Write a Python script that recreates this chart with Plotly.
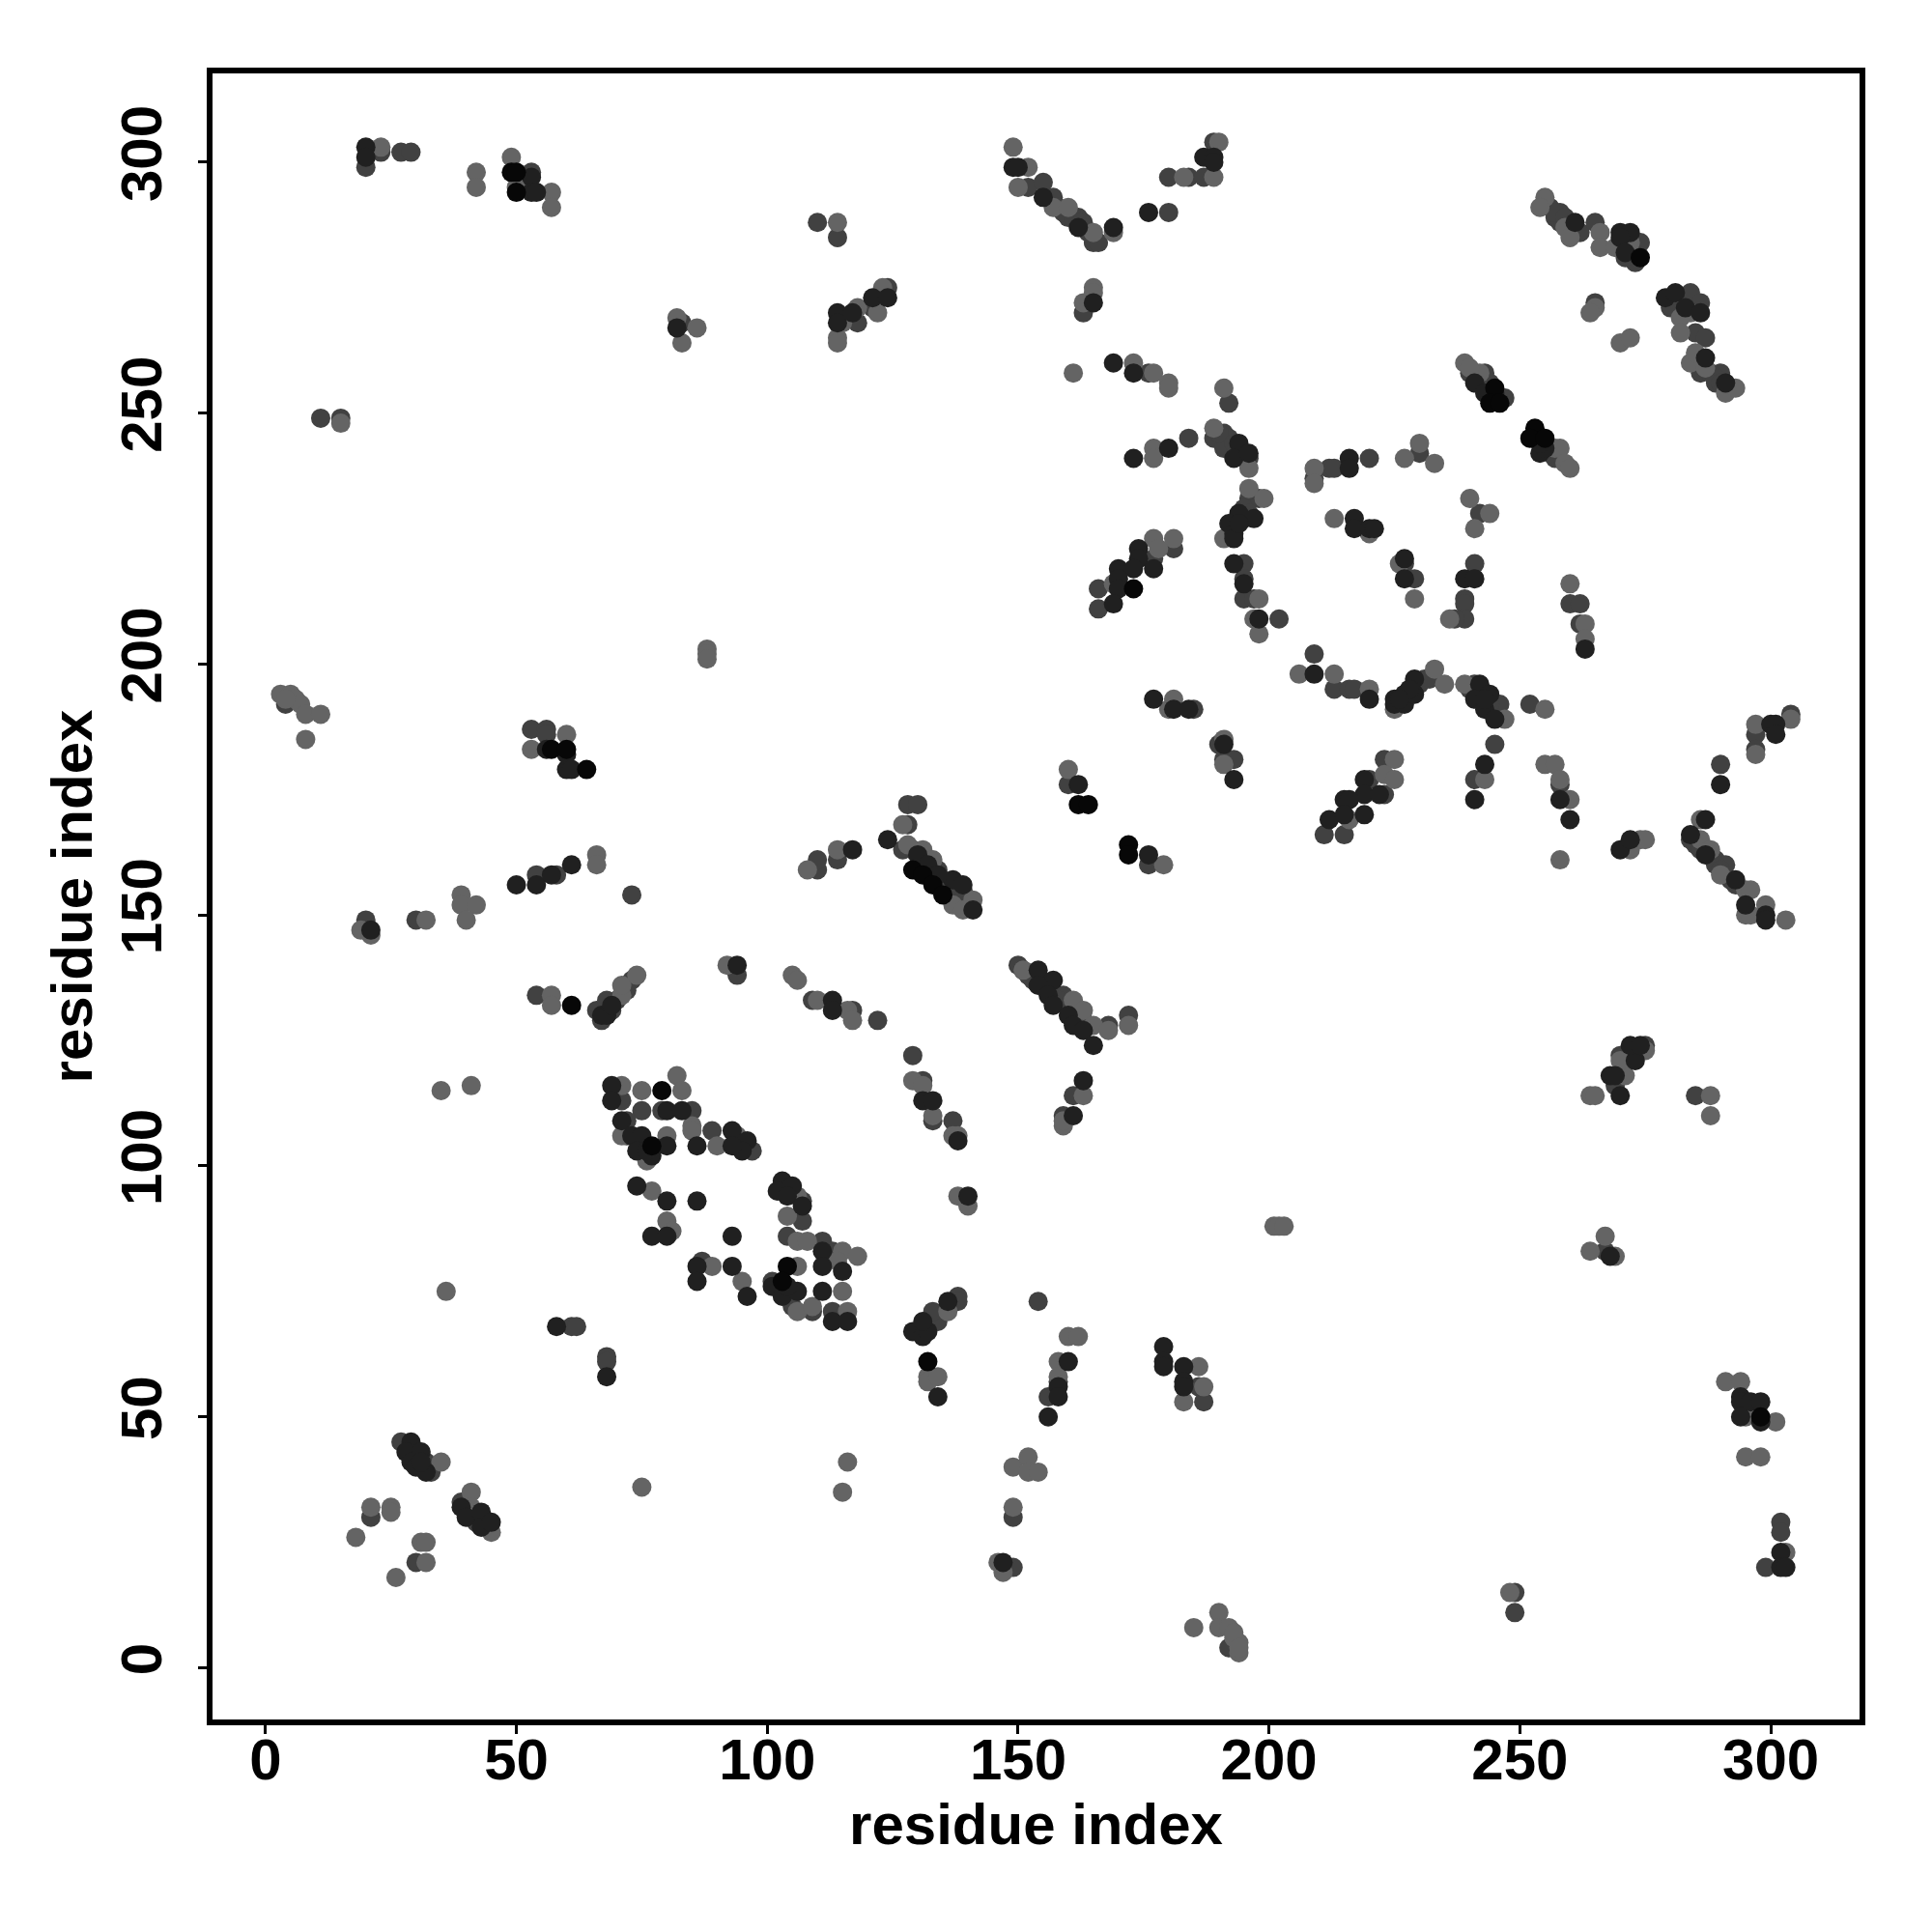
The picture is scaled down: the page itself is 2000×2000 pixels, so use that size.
import plotly.graph_objects as go

tick_values = [0, 50, 100, 150, 200, 250, 300]
axis_title = "residue index"

# (residue i, residue j) contacts, grouped by grey shade
black_contacts = [
 (132,61),(172,164),(172,162),(162,172),(164,172),(173,215),(245,255),(244,252),(246,252),
 (253,247),(252,245),(255,245),(274,281),(49,298),(50,298),(79,115),(61,132),(57,183),(60,183),(64,179),
 (50,294),(129,159),(131,158),(133,156),(135,154),(104,80),(103,77),(77,104),(298,50),
]
dark_contacts = [
 (69,116),(69,113),(80,111),(83,111),(93,107),(96,105),(95,103),(93,104),(86,104),(80,104),
 (71,109),(73,106),(75,106),(74,103),(77,102),(76,103),(74,96),(80,93),(86,93),(77,86),(80,86),(93,86),
 (86,80),(86,77),(93,80),(96,74),(103,97),(102,95),(105,96),(104,94),(107,92),(111,83),(111,80),
 (115,79),(111,75),(113,69),(116,69),(101,76),(103,74),(106,75),(104,76),(131,113),(133,113),(138,105),
 (140,94),(129,67),(131,66),(132,67),(131,69),(136,73),(134,54),(68,58),(58,68),(29,45),(28,43),(31,43),
 (29,41),(30,40),(32,39),(31,41),(39,32),(40,30),(43,31),(43,28),(45,29),(113,133),(113,131),
 (154,139),(157,137),(154,136),(156,134),(157,132),(160,130),(161,128),(163,127),(165,124),(163,117),(161,110),
 (160,61),(158,56),(158,54),(156,50),(179,64),(179,61),(179,60),(183,60),(183,57),(183,56),(268,82),(270,114),
 (268,118),(269,118),(273,121),(272,124),(274,124),(147,21),(294,54),(294,53),(294,50),(296,53),(298,53),(298,49),
 (302,23),(302,20),(303,20),(20,303),(20,301),(53,297),(53,294),(54,294),(114,270),(114,268),(117,270),(121,273),
 (124,273),(82,267),(56,183),(60,182),(60,179),(61,179),(124,165),(117,163),(50,156),(54,156),(57,158),(61,160),
 (21,147),(137,157),(139,156),(141,151),(149,299),(150,299),(155,293),(162,287),(169,287),(176,290),(187,301),
 (189,301),(189,300),(165,272),(169,260),(173,258),(173,241),(180,243),(194,244),(193,241),(196,242),(197,229),
 (194,230),(192,228),(193,226),(193,225),(194,228),(174,223),(174,221),(177,219),(170,219),(173,219),(170,217),
 (170,215),(169,212),(193,220),(195,216),(198,209),(216,241),(216,239),(217,229),(217,227),(220,227),(221,227),
 (227,221),(227,217),(239,217),(241,217),(209,198),(220,193),(225,193),(227,194),(227,192),(229,194),(229,197),
 (225,192),(242,196),(241,193),(244,194),(243,191),(245,189),(243,180),(241,173),(258,173),(260,169),(263,203),
 (177,193),(181,191),(184,191),(191,184),(193,177),(162,176),(176,162),(219,177),(219,174),(222,174),(215,173),
 (216,173),(219,170),(212,169),(215,170),(261,288),(270,286),(272,286),(270,285),(271,282),(279,273),(281,274),
 (283,271),(286,270),(287,261),(291,256),(241,256),(243,254),(245,254),(254,242),(255,243),(300,188),(301,188),
 (301,186),(290,176),(287,169),(270,163),(272,165),(284,166),(287,162),(293,157),(295,152),(299,150),(299,149),
 (94,140),(67,130),(68,130),(69,132),(253,245),(254,244),(228,195),(226,193),(243,193),(130,162),(132,160),(134,158),
]
mid_contacts = [
 (54,134),(66,131),(67,129),(68,131),(69,131),(68,133),(73,137),(71,113),(75,111),(79,111),(85,111),(89,107),(97,103),
 (72,109),(72,106),(87,81),(107,93),(107,89),(104,86),(111,85),(113,83),(113,71),(101,77),(105,72),(109,71),(129,122),
 (131,117),(133,109),(137,109),(134,69),(133,71),(138,74),(138,73),(68,62),(68,61),(61,68),(62,68),(27,45),(32,41),
 (33,39),(39,33),(42,29),(21,30),(30,21),(109,133),(117,131),(122,129),(94,138),(159,134),(168,128),(172,130),(161,114),
 (159,110),(154,73),(158,57),(156,54),(186,56),(187,53),(267,83),(269,116),(270,122),(271,122),(275,124),(285,114),
 (149,30),(149,20),(192,4),(249,15),(249,11),(302,29),(302,27),(299,20),(20,299),(23,302),(27,302),(29,302),(53,298),
 (110,288),(114,285),(118,268),(121,271),(124,275),(83,268),(11,249),(15,249),(4,192),(53,187),(56,187),(56,186),
 (128,172),(130,172),(128,168),(127,163),(134,159),(139,155),(110,159),(110,161),(114,161),(54,158),(58,158),(73,154),
 (30,149),(20,149),(152,295),(155,296),(157,293),(160,289),(162,289),(163,288),(165,284),(166,284),(180,297),(184,297),
 (187,297),(189,304),(163,270),(176,258),(192,252),(184,245),(189,245),(191,246),(192,245),(196,241),(191,243),(196,233),
 (198,233),(195,229),(181,223),(177,221),(166,215),(166,211),(195,220),(195,217),(195,213),(197,213),(202,209),(209,237),
 (212,239),(213,239),(220,241),(230,242),(227,220),(229,217),(242,230),(241,220),(239,213),(239,212),(239,209),(237,209),
 (209,202),(213,195),(216,195),(217,195),(231,197),(241,196),(246,192),(252,192),(245,184),(241,177),(258,176),(260,212),
 (262,212),(262,208),(185,191),(190,184),(191,181),(193,181),(160,176),(176,160),(223,181),(220,177),(223,174),(211,166),
 (215,166),(256,291),(258,290),(257,289),(258,288),(262,286),(265,288),(274,284),(273,280),(271,281),(265,272),(280,271),
 (284,274),(286,272),(285,266),(287,265),(286,258),(290,258),(289,256),(240,258),(243,258),(247,253),(257,241),(304,190),
 (297,186),(297,183),(290,180),(284,165),(289,161),(291,160),(293,156),
 (180,290),(150,140),(151,139),(152,138),(153,137),(155,136),(156,135),(157,134),(158,133),(160,132),(161,131),(162,130),
 (163,129),(164,128),(129,163),(131,161),(133,159),(135,157),(136,156),(137,155),(138,154),(139,153),(140,152),(158,291),
 (159,290),(161,289),(162,288),(163,287),(164,286),(257,290),(259,289),(260,287),(242,257),(244,256),(256,242),(285,164),
 (286,163),(288,162),(289,160),(290,159),(292,157),(190,246),(193,244),(194,242),(195,241),(286,260),(288,258),(289,257),
 (290,256),(230,196),(232,197),(240,195),(244,192),(195,231),(196,230),(70,133),(72,135),(104,95),(105,95),
]
light_contacts = [
 (57,134),(57,132),(71,116),(71,134),(71,136),(74,138),(75,115),(82,118),(83,115),(85,108),(85,107),(94,106),(90,104),
 (80,106),(71,106),(76,101),(77,95),(80,89),(81,87),(89,80),(95,77),(106,94),(104,90),(106,85),(108,85),(115,83),(118,82),
 (114,81),(106,80),(115,75),(116,71),(106,71),(109,72),(129,117),(131,116),(133,110),(137,106),(138,106),(138,94),(140,92),
 (136,71),(132,58),(132,57),(134,58),(36,75),(35,115),(41,116),(75,36),(116,41),(115,35),(35,41),(41,35),(41,32),(45,27),
 (21,32),(25,32),(25,31),(18,26),(31,25),(32,25),(32,21),(26,18),(105,138),(106,137),(110,133),(116,131),(117,129),
 (151,139),(161,133),(163,131),(165,128),(168,127),(172,128),(163,114),(159,108),(159,109),(201,88),(202,88),(203,88),
 (160,66),(162,66),(158,61),(158,58),(186,60),(187,56),(183,53),(267,86),(264,83),(269,82),(288,114),(288,110),(264,114),
 (265,114),(271,118),(270,121),(275,123),(149,40),(152,42),(152,39),(154,39),(149,32),(146,21),(147,19),(185,8),(190,11),
 (190,8),(192,8),(193,6),(194,5),(194,3),(193,7),(194,4),(248,15),(291,57),(294,57),(295,50),(301,49),(295,42),(298,42),
 (303,23),(23,303),(42,298),(42,295),(49,301),(50,295),(57,294),(57,291),(114,288),(115,268),(114,265),(114,264),(118,271),
 (122,270),(123,275),(82,269),(83,264),(86,267),(15,248),(88,203),(88,202),(88,201),(3,194),(5,194),(6,193),(7,192),(8,190),
 (11,190),(8,185),(4,193),(60,186),(53,183),(127,168),(128,164),(131,163),(133,161),(141,153),(137,152),(139,151),(108,159),
 (114,163),(66,162),(66,160),(39,154),(39,152),(42,152),(40,149),(32,149),(19,147),(21,146),(149,303),(152,299),(150,295),
 (157,291),(160,291),(165,286),(169,286),(183,297),(189,297),(190,304),(165,275),(163,272),(165,274),(161,258),(173,260),
 (177,258),(180,256),(180,255),(191,255),(177,243),(177,241),(189,247),(196,239),(196,235),(199,233),(191,225),(177,225),
 (181,225),(178,223),(169,216),(198,213),(197,209),(198,206),(209,239),(209,236),(227,241),(230,244),(233,240),(213,229),
 (220,226),(226,220),(229,213),(240,233),(244,230),(241,227),(236,209),(206,198),(213,198),(220,195),(225,191),(233,199),
 (235,196),(239,196),(247,189),(255,191),(243,177),(255,180),(257,180),(258,177),(260,173),(258,161),(260,216),(263,208),
 (263,205),(180,191),(181,193),(191,185),(191,180),(160,179),(179,160),(225,181),(223,178),(225,177),(216,169),(255,293),
 (254,291),(259,287),(260,285),(266,286),(266,283),(269,283),(272,284),(271,285),(265,271),(264,270),(270,264),(272,265),
 (284,270),(282,269),(282,266),(284,260),(285,262),(287,259),(291,254),(293,255),(239,260),(242,258),(257,243),(258,243),
 (259,240),(260,239),(297,188),(304,189),(297,182),(286,169),(272,163),(274,165),(275,165),(286,165),(288,163),(290,158),
 (295,155),(296,155),(295,150),(296,150),(299,152),(303,149),(92,140),(240,259),
]

groups = [
    (mid_contacts, "#414141"),
    (light_contacts, "#646464"),
    (dark_contacts, "#202020"),
    (black_contacts, "#070707"),
]

fig = go.Figure()
for pts, col in groups:
    fig.add_trace(go.Scatter(
        x=[p[0] for p in pts], y=[p[1] for p in pts], mode="markers",
        marker=dict(size=20, color=col, line=dict(width=0)), showlegend=False, cliponaxis=False))

font = dict(family="Liberation Sans", size=60, color="black", weight=700)
axis = dict(tickmode="array", tickvals=tick_values, ticks="outside", ticklen=9, tickwidth=3,
            tickcolor="black", showline=True, linewidth=6, linecolor="black", mirror=True,
            showgrid=False, zeroline=False, tickfont=font)
fig.update_layout(
    width=2000, height=2000, autosize=False,
    margin=dict(l=212, r=83, t=68, b=228, autoexpand=False),
    paper_bgcolor="white", plot_bgcolor="white",
    xaxis=dict(range=[-10.56, 317.7], ticklabelstandoff=-25,
               title=dict(text=axis_title, font=font, standoff=9), **axis),
    yaxis=dict(range=[-10.3, 317.7], tickangle=-90, ticklabelstandoff=14,
               title=dict(text=axis_title, font=font, standoff=0), **axis),
)
fig.write_html("out.html")
